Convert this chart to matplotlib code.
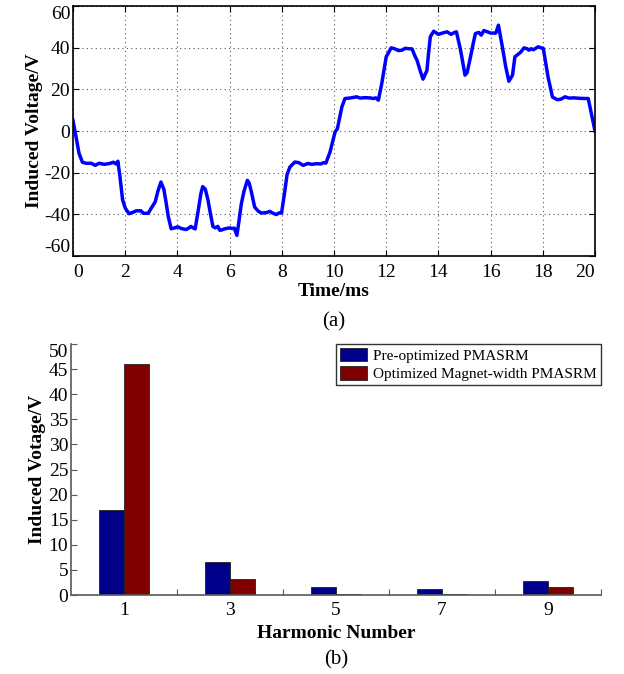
import matplotlib
matplotlib.use("Agg")
import matplotlib.pyplot as plt

plt.rcParams['font.family'] = ['Liberation Serif', 'DejaVu Serif']
plt.rcParams['axes.unicode_minus'] = False

# ---- (a) induced voltage waveform ----
time_ms = [0.0, 0.12, 0.23, 0.36, 0.5, 0.7, 0.85, 1.0, 1.2, 1.4, 1.55, 1.65, 1.72,
           1.8, 1.9, 2.0, 2.15, 2.3, 2.43, 2.6, 2.7, 2.88, 3.0, 3.15, 3.25, 3.37, 3.48,
           3.55, 3.65, 3.76, 3.9, 4.01, 4.15, 4.33, 4.45, 4.52, 4.6, 4.68, 4.8, 4.9,
           4.97, 5.07, 5.17, 5.27, 5.36, 5.45, 5.55, 5.62, 5.68, 5.8, 6.0, 6.1, 6.18,
           6.28, 6.35, 6.45, 6.55, 6.68, 6.75, 6.83, 6.96, 7.1, 7.22, 7.4, 7.54, 7.65,
           7.79, 7.9, 7.99, 8.12, 8.2, 8.31, 8.5, 8.65, 8.82, 9.0, 9.15, 9.33, 9.5, 9.6,
           9.69, 9.85, 10.04, 10.13, 10.3, 10.42, 10.6, 10.87, 11.0, 11.2, 11.38, 11.5,
           11.6, 11.7, 11.83, 12.0, 12.19, 12.3, 12.47, 12.6, 12.73, 12.85, 12.99, 13.1,
           13.18, 13.3, 13.41, 13.56, 13.62, 13.69, 13.82, 14.0, 14.15, 14.33, 14.49,
           14.6, 14.69, 14.85, 15.02, 15.1, 15.23, 15.35, 15.42, 15.55, 15.64, 15.74,
           15.9, 16.0, 16.2, 16.3, 16.45, 16.58, 16.7, 16.84, 16.93, 17.15, 17.28, 17.4,
           17.47, 17.55, 17.64, 17.82, 18.02, 18.2, 18.37, 18.56, 18.7, 18.85, 19.0,
           19.2, 19.4, 19.59, 19.74, 20.0]
voltage = [5, -3, -10.7, -15, -15.5, -15.5, -16.5, -15.5, -16, -15.6, -15, -15.8, -14.5,
           -22, -33, -37, -39.7, -39, -38.3, -38.3, -39.5, -39.5, -37, -34, -29, -24.5, -28,
           -33, -41, -46.9, -46.5, -46, -46.8, -47.3, -46.5, -45.8, -46.5, -47, -38, -30,
           -26.7, -28, -33, -40, -45.8, -46.5, -45.8, -47.6, -47.6, -47, -46.5, -46.8, -46.6,
           -50.1, -44, -34.9, -29, -23.7, -25, -29, -36.5, -38.5, -39.4, -39.2, -38.6, -39.4,
           -40.1, -39.3, -39.4, -28.5, -21, -17.3, -14.9, -15.2, -16.5, -15.6, -16, -15.7, -15.8, -15.2,
           -15.4, -10, -0.5, 1.1, 11.5, 15.6, 15.8, 16.4, 15.8, 16.0, 15.9, 15.6,
           15.9, 14.8, 22.8, 35.6, 39.9, 39.6, 38.6, 38.8, 39.7, 39.5, 39.4, 36,
           34, 29, 24.9, 29, 37, 45.2, 47.9, 46.4, 47, 47.6, 46.4,
           47.2, 47.6, 38.8, 26.8, 28, 35.6, 43, 46.8, 47.3, 46, 48.2,
           47.5, 47, 47, 50.8, 40.4, 30.8, 23.9, 26.8, 35.6, 37.8, 39.9, 39.5,
           38.8, 39.5, 39, 40.4, 39.6, 26, 16.3, 15, 15.3, 16.4, 15.8,
           15.9, 15.7, 15.6, 15.6, 0]

# ---- (b) harmonic spectrum ----
harmonics = [1, 3, 5, 7, 9]
pre_optimized = [17.0, 6.5, 1.6, 1.25, 2.85]
optimized = [46.1, 3.1, 0.1, 0.1, 1.5]
legend_labels = ['Pre-optimized PMASRM', 'Optimized Magnet-width PMASRM']

W, H = 624, 674
fig = plt.figure(figsize=(W / 100, H / 100), dpi=100)

def ax_rect(l, t, r, b):
    return [l / W, 1 - b / H, (r - l) / W, (b - t) / H]

FS = 14

# Top axes
ax1 = fig.add_axes(ax_rect(73, 6, 595, 256))
ax1.plot(time_ms, voltage, color='#0000ff', linewidth=2.5, solid_joinstyle='round')
ax1.set_xlim(0, 20)
ax1.set_ylim(-60, 60)
ax1.set_xticks(range(0, 21, 2))
ax1.set_yticks(range(-60, 61, 20))
ax1.grid(True, color='0.35', linestyle=(0, (1, 3)), linewidth=0.8)
ax1.tick_params(direction='in', length=4, width=0.8, labelsize=FS, top=True, right=True)
ax1.tick_params(axis='x', pad=6)
ax1.tick_params(axis='y', pad=2)
for s in ax1.spines.values():
    s.set_linewidth(1.2)
ax1.set_xlabel('Time/ms', fontsize=FS, fontweight='bold', labelpad=1)
ax1.set_ylabel('Induced Voltage/V', fontsize=FS, fontweight='bold', labelpad=1)
fig.canvas.draw()
ylabs = ax1.get_yticklabels()
ylabs[0].set_va('bottom')
ylabs[-1].set_va('top')
xlabs = ax1.get_xticklabels()
xlabs[0].set_ha('left')
xlabs[-1].set_ha('right')
fig.text(334 / W, 1 - 322 / H, '(a)', ha='center', va='center', fontsize=FS + 1)

# Bottom axes
ax2 = fig.add_axes(ax_rect(71, 344, 601, 595))
bw = 0.47
xs = list(harmonics)
ax2.bar([x - bw / 2 for x in xs], pre_optimized, width=bw, color='#00008b',
        edgecolor='#202020', linewidth=0.6, label=legend_labels[0])
ax2.bar([x + bw / 2 for x in xs], optimized, width=bw, color='#800000',
        edgecolor='#202020', linewidth=0.6, label=legend_labels[1])
ax2.set_xlim(0, 10)
ax2.set_ylim(0, 50)
ax2.set_xticks(harmonics)
ax2.set_xticks([2, 4, 6, 8, 10], minor=True)
ax2.set_yticks(range(0, 51, 5))
ax2.tick_params(axis='x', which='major', length=0, labelsize=FS, pad=5)
ax2.tick_params(axis='x', which='minor', direction='in', length=4, width=0.8, color='0.35')
ax2.tick_params(axis='y', direction='in', length=4, width=0.8, labelsize=FS, pad=2, color='0.35')
ax2.spines['top'].set_visible(False)
ax2.spines['right'].set_visible(False)
for s in ('left', 'bottom'):
    ax2.spines[s].set_color('0.35')
    ax2.spines[s].set_linewidth(1.2)
ax2.set_xlabel('Harmonic Number', fontsize=FS, fontweight='bold', labelpad=4)
ax2.set_ylabel('Induced Votage/V', fontsize=FS, fontweight='bold', labelpad=2)
fig.canvas.draw()
ylabs2 = ax2.get_yticklabels()
ylabs2[-1].set_va('top')
leg = ax2.legend(loc='upper right', bbox_to_anchor=(1.0, 1.0), fontsize=11,
                 frameon=True, fancybox=False, borderaxespad=0, handlelength=1.8,
                 handleheight=1.0, handletextpad=0.4, borderpad=0.25, labelspacing=0.2)
leg.get_frame().set_edgecolor('black')
leg.get_frame().set_linewidth(1.0)
fig.text(336 / W, 1 - 660 / H, '(b)', ha='center', va='center', fontsize=FS + 1)

fig.savefig('out.png', dpi=100)
